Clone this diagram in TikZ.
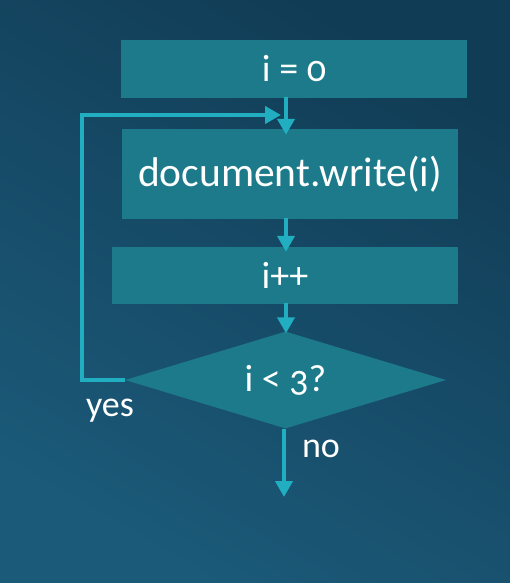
\documentclass[tikz,border=0pt]{standalone}
\usepackage{fontspec}
\setmainfont[Numbers=OldStyle]{Carlito}
\usetikzlibrary{shapes.geometric,arrows.meta}
\definecolor{bgdark}{HTML}{113C55}
\definecolor{bglight}{HTML}{1B5A79}
\definecolor{boxfill}{HTML}{1C7A8A}
\definecolor{arrowc}{HTML}{20AEC0}
\tikzset{
  procbox/.style={fill=boxfill, draw=none, inner sep=0pt, text=white, font=\fontsize{38}{40}\selectfont},
  decbox/.style={shape=diamond, fill=boxfill, draw=none, inner sep=0pt, shape aspect=3.3,
     minimum width=321pt, minimum height=97pt, text=white, font=\fontsize{38}{40}\selectfont},
  flow/.style={draw=arrowc, line width=4.8pt, -{Triangle[width=17pt,length=16pt]}},
  lbl/.style={text=white, font=\fontsize{36}{38}\selectfont, inner sep=0pt}
}
\begin{document}
\begin{tikzpicture}[x=1pt,y=-1pt]
\shade[top color=bgdark, bottom color=bglight, shading angle=-30] (0,0) rectangle (510,583);
\useasboundingbox (0,0) rectangle (510,583);
\node[procbox, minimum width=346pt, minimum height=58pt] (init) at (294,69) {i = 0};
\node[procbox, minimum width=336pt, minimum height=90pt, font=\fontsize{41.5}{44}\selectfont] (write) at (290,174) {document.write(i)};
\node[procbox, minimum width=346pt, minimum height=57pt] (incr) at (285,275.5) {i++};
\node[decbox] (test) at (285.5,380) {i < 3?};
\coordinate (loopin) at (281,115);
\coordinate (exit) at (284,550);
\draw[flow, shorten <=-1pt, shorten >=-6pt] (init.south -| 286,0) -- (write.north -| 286,0);
\draw[flow, shorten <=-1pt, shorten >=-5pt] (write.south -| 286,0) -- (incr.north -| 286,0);
\draw[flow, shorten <=-1pt, shorten >=-2pt] (incr.south -| 286,0) -- (test.north -| 286,0);
\draw[flow, line join=miter] (test.west) -- (82,380) -- (82,115) -- (loopin);
\draw[flow] (test.south -| exit) -- (284,497);
\node[lbl] (yes) at (110,411) {yes};
\node[lbl] (no) at (321,449) {no};
\end{tikzpicture}
\end{document}
